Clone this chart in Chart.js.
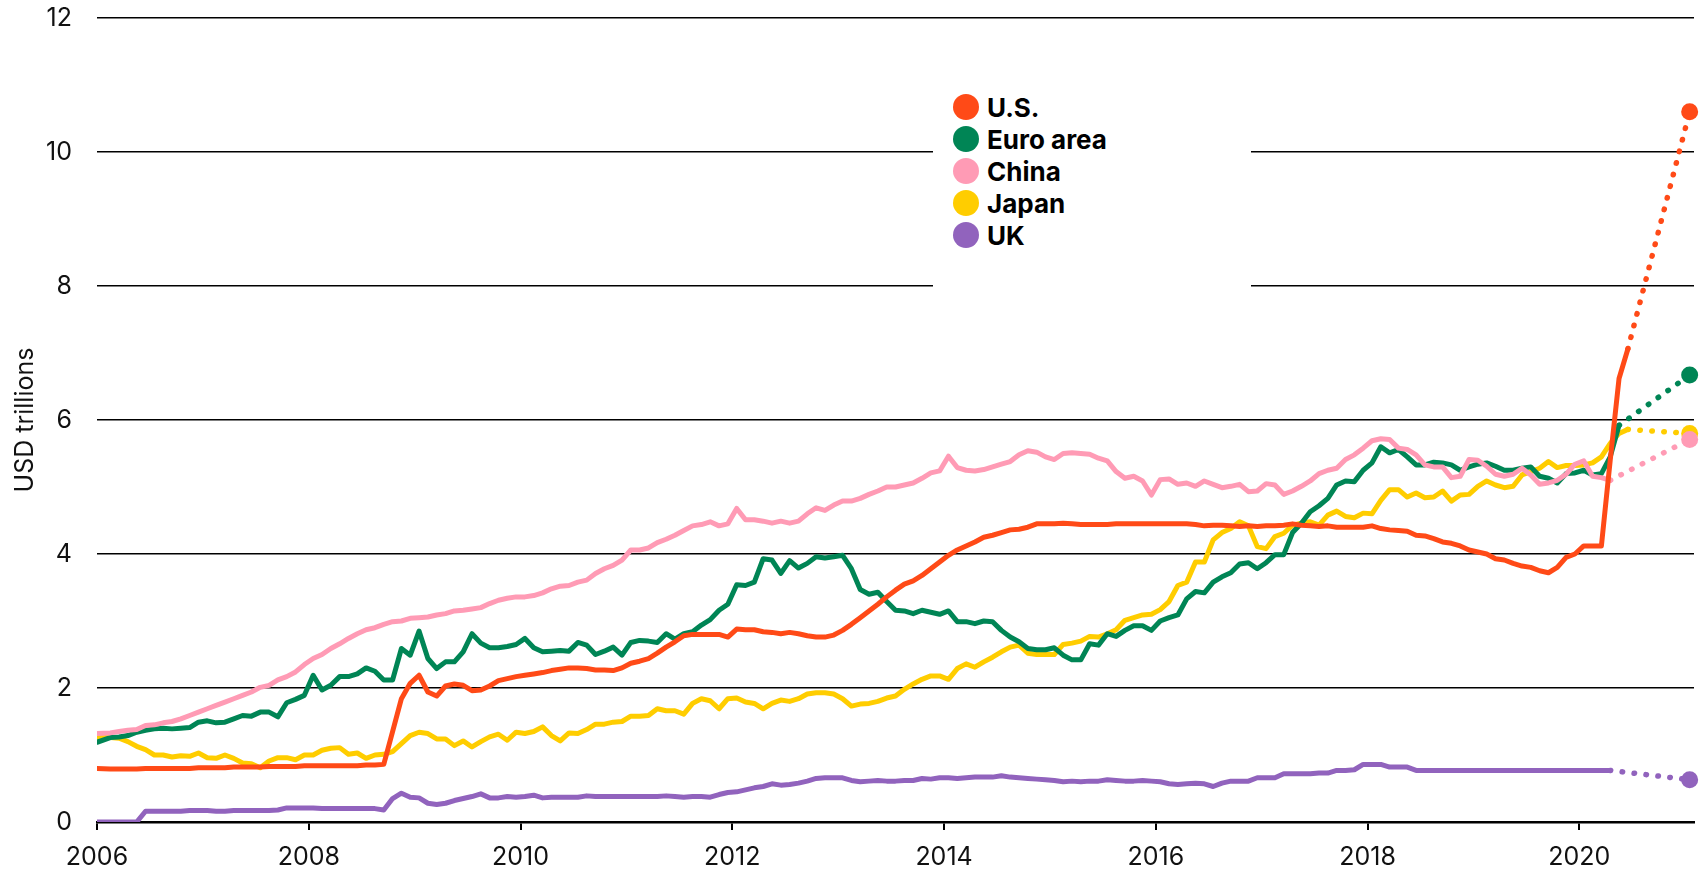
<!DOCTYPE html>
<html>
<head>
<meta charset="utf-8">
<script src="https://cdn.jsdelivr.net/npm/chart.js@4/dist/chart.umd.min.js"></script>
<style>
  html, body { margin: 0; padding: 0; background: #fff; }
  #wrap { position: relative; width: 1706px; height: 871px; overflow: hidden; }
  #c { position: absolute; left: 0; top: 0; }
  #legend { position: absolute; left: 933px; top: 60px; width: 318px; height: 240px; background: #fff;
            font-family: Inter, "DejaVu Sans", sans-serif; font-weight: 700; font-size: 26px; color: #000; }
  .item { position: absolute; left: 20px; height: 32px; display: flex; align-items: center; white-space: nowrap; }
  .dot { width: 26px; height: 26px; border-radius: 50%; margin-right: 8px; flex: none; }
</style>
</head>
<body>
<div id="wrap">
  <canvas id="c" width="1706" height="871"></canvas>
  <div id="legend"></div>
</div>
<script>
// ---------------- data (USD trillions, monthly from Jan 2006) ----------------
const seriesNames = ['U.S.', 'Euro area', 'China', 'Japan', 'UK'];
const xTickYears = [2006, 2008, 2010, 2012, 2014, 2016, 2018, 2020];
const yTickValues = [0, 2, 4, 6, 8, 10, 12];
const firstYear = 2006;
const projectionYear = 2021.042;

const usValues = [
  0.80,0.79,0.79,0.79,0.79,0.80,0.80,0.80,0.80,0.80,0.80,0.81,
  0.81,0.81,0.81,0.82,0.82,0.82,0.82,0.83,0.83,0.83,0.83,0.84,
  0.84,0.84,0.84,0.84,0.84,0.84,0.85,0.85,0.86,1.35,1.84,2.07,
  2.19,1.94,1.88,2.03,2.06,2.04,1.96,1.97,2.03,2.11,2.14,2.17,
  2.19,2.21,2.23,2.26,2.28,2.30,2.30,2.29,2.27,2.27,2.26,2.30,
  2.37,2.40,2.44,2.52,2.61,2.69,2.78,2.80,2.80,2.80,2.80,2.76,
  2.88,2.87,2.87,2.84,2.83,2.81,2.83,2.81,2.78,2.76,2.76,2.79,
  2.86,2.95,3.05,3.15,3.25,3.36,3.46,3.55,3.60,3.68,3.78,3.88,
  3.98,4.06,4.12,4.18,4.25,4.28,4.32,4.36,4.37,4.40,4.45,4.45,
  4.45,4.46,4.45,4.44,4.44,4.44,4.44,4.45,4.45,4.45,4.45,4.45,
  4.45,4.45,4.45,4.45,4.44,4.42,4.43,4.43,4.42,4.41,4.42,4.41,
  4.42,4.42,4.43,4.45,4.43,4.42,4.41,4.42,4.40,4.40,4.40,4.40,
  4.42,4.38,4.36,4.35,4.34,4.28,4.27,4.23,4.18,4.16,4.12,4.06,
  4.03,4.00,3.93,3.91,3.86,3.82,3.80,3.75,3.72,3.80,3.95,4.00,
  4.12,4.12,4.12,5.40,6.62,7.06
];
const euroValues = [
  1.19,1.26,1.27,1.29,1.34,1.37,1.39,1.40,1.39,1.40,1.41,1.49,
  1.51,1.48,1.49,1.54,1.59,1.58,1.64,1.64,1.57,1.78,1.83,1.89,
  2.19,1.97,2.04,2.17,2.17,2.21,2.30,2.25,2.12,2.12,2.59,2.49,
  2.85,2.44,2.29,2.39,2.39,2.54,2.81,2.67,2.60,2.60,2.62,2.65,
  2.74,2.60,2.54,2.55,2.56,2.55,2.68,2.64,2.50,2.55,2.61,2.49,
  2.68,2.71,2.70,2.68,2.81,2.73,2.81,2.84,2.94,3.02,3.16,3.25,
  3.54,3.53,3.58,3.93,3.91,3.71,3.90,3.79,3.86,3.96,3.94,3.96,
  3.98,3.78,3.47,3.40,3.43,3.29,3.16,3.15,3.11,3.16,3.13,3.10,
  3.15,2.99,2.99,2.96,3.00,2.99,2.86,2.76,2.69,2.59,2.57,2.57,
  2.60,2.49,2.42,2.42,2.66,2.64,2.81,2.77,2.86,2.93,2.93,2.86,
  3.00,3.05,3.09,3.33,3.44,3.42,3.58,3.66,3.72,3.85,3.87,3.78,
  3.87,3.99,3.99,4.32,4.46,4.63,4.72,4.83,5.03,5.09,5.08,5.25,
  5.36,5.60,5.51,5.56,5.45,5.33,5.33,5.37,5.36,5.33,5.25,5.30,
  5.34,5.36,5.31,5.25,5.25,5.28,5.30,5.16,5.13,5.06,5.20,5.21,
  5.25,5.18,5.20,5.45,5.92
];
const chinaValues = [
  1.32,1.33,1.35,1.37,1.38,1.44,1.45,1.48,1.50,1.54,1.59,1.64,
  1.69,1.74,1.79,1.84,1.89,1.94,2.01,2.04,2.12,2.17,2.24,2.35,
  2.44,2.50,2.59,2.66,2.74,2.81,2.87,2.90,2.95,2.99,3.00,3.04,
  3.05,3.06,3.09,3.11,3.15,3.16,3.18,3.20,3.26,3.31,3.34,3.36,
  3.36,3.38,3.42,3.48,3.52,3.53,3.58,3.61,3.71,3.78,3.83,3.91,
  4.06,4.06,4.09,4.17,4.22,4.28,4.35,4.42,4.44,4.48,4.42,4.45,
  4.68,4.51,4.51,4.49,4.46,4.49,4.46,4.49,4.60,4.69,4.65,4.73,
  4.79,4.79,4.83,4.89,4.94,5.00,5.00,5.03,5.06,5.13,5.21,5.24,
  5.46,5.29,5.25,5.24,5.26,5.30,5.34,5.38,5.48,5.54,5.52,5.45,
  5.41,5.50,5.51,5.50,5.49,5.43,5.39,5.23,5.13,5.16,5.09,4.88,
  5.11,5.12,5.04,5.06,5.01,5.09,5.04,4.99,5.01,5.04,4.93,4.94,
  5.05,5.03,4.89,4.94,5.01,5.09,5.20,5.25,5.28,5.41,5.48,5.58,
  5.69,5.72,5.71,5.58,5.56,5.48,5.33,5.30,5.30,5.14,5.16,5.41,
  5.40,5.31,5.19,5.16,5.19,5.28,5.18,5.04,5.06,5.10,5.19,5.34,
  5.39,5.16,5.14,5.10
];
const japanValues = [
  1.26,1.26,1.25,1.20,1.13,1.08,1.00,1.00,0.97,0.99,0.98,1.03,
  0.96,0.95,1.00,0.95,0.88,0.87,0.81,0.91,0.96,0.96,0.93,1.00,
  1.00,1.07,1.10,1.11,1.01,1.03,0.95,1.00,1.01,1.05,1.17,1.29,
  1.34,1.32,1.24,1.24,1.14,1.21,1.12,1.20,1.27,1.31,1.22,1.34,
  1.32,1.35,1.42,1.29,1.21,1.33,1.32,1.38,1.46,1.46,1.49,1.50,
  1.58,1.58,1.59,1.69,1.66,1.66,1.61,1.77,1.84,1.81,1.69,1.84,
  1.85,1.79,1.77,1.69,1.77,1.82,1.80,1.84,1.91,1.93,1.93,1.91,
  1.84,1.73,1.76,1.77,1.80,1.85,1.88,1.98,2.06,2.13,2.18,2.18,
  2.13,2.29,2.36,2.31,2.39,2.46,2.54,2.61,2.64,2.52,2.50,2.50,
  2.50,2.65,2.67,2.70,2.77,2.76,2.81,2.87,3.01,3.05,3.09,3.10,
  3.17,3.29,3.53,3.58,3.88,3.88,4.21,4.32,4.38,4.48,4.42,4.11,
  4.08,4.26,4.31,4.43,4.46,4.48,4.43,4.58,4.64,4.56,4.54,4.61,
  4.60,4.80,4.96,4.96,4.85,4.91,4.84,4.85,4.94,4.79,4.88,4.89,
  5.01,5.09,5.03,4.99,5.01,5.18,5.23,5.28,5.38,5.29,5.32,5.32,
  5.33,5.36,5.45,5.65,5.80,5.86
];
const ukValues = [
  0.00,0.00,0.00,0.00,0.00,0.16,0.16,0.16,0.16,0.16,0.17,0.17,
  0.17,0.16,0.16,0.17,0.17,0.17,0.17,0.17,0.18,0.21,0.21,0.21,
  0.21,0.20,0.20,0.20,0.20,0.20,0.20,0.20,0.18,0.35,0.43,0.37,
  0.36,0.28,0.26,0.28,0.32,0.35,0.38,0.42,0.36,0.36,0.38,0.37,
  0.38,0.40,0.36,0.37,0.37,0.37,0.37,0.39,0.38,0.38,0.38,0.38,
  0.38,0.38,0.38,0.38,0.39,0.38,0.37,0.38,0.38,0.37,0.41,0.44,
  0.45,0.48,0.51,0.53,0.57,0.55,0.56,0.58,0.61,0.65,0.66,0.66,
  0.66,0.62,0.60,0.61,0.62,0.61,0.61,0.62,0.62,0.65,0.64,0.66,
  0.66,0.65,0.66,0.67,0.67,0.67,0.69,0.67,0.66,0.65,0.64,0.63,
  0.62,0.60,0.61,0.60,0.61,0.61,0.63,0.62,0.61,0.61,0.62,0.61,
  0.60,0.57,0.56,0.57,0.58,0.57,0.53,0.58,0.61,0.61,0.61,0.66,
  0.66,0.66,0.72,0.72,0.72,0.72,0.73,0.73,0.77,0.77,0.78,0.86,
  0.86,0.86,0.82,0.82,0.82,0.77,0.77,0.77,0.77,0.77,0.77,0.77,
  0.77,0.77,0.77,0.77,0.77,0.77,0.77,0.77,0.77,0.77,0.77,0.77,
  0.77,0.77,0.77,0.77
];
// projected end-2020 balance sheets (dotted lines)
const projected2021 = [10.60, 6.67, 5.71, 5.80, 0.63];

// ---------------- styling ----------------
const seriesColors = ['#ff4a17', '#008555', '#ff9bb5', '#ffcd00', '#9163bd'];
const FONT = 'Inter, "DejaVu Sans", sans-serif';
const drawOrder = [0, 2, 1, 3, 4]; // first = top-most

const allValues = [usValues, euroValues, chinaValues, japanValues, ukValues];
const monthX = i => (i === 0 ? firstYear : firstYear + (i + 0.5) / 12);

const datasets = [];
drawOrder.forEach(k => {
  const vals = allValues[k];
  const color = seriesColors[k];
  datasets.push({
    label: seriesNames[k],
    data: vals.map((v, i) => ({ x: monthX(i), y: v })),
    borderColor: color,
    borderWidth: 5,
    pointRadius: 0,
    tension: 0,
    fill: false,
    borderJoinStyle: 'round',
    borderCapStyle: 'round'
  });
  const last = vals.length - 1;
  datasets.push({
    label: seriesNames[k] + ' projection',
    data: [{ x: monthX(last), y: vals[last] }, { x: projectionYear, y: projected2021[k] }],
    borderColor: color,
    borderWidth: 5.5,
    borderDash: [0.5, 11.5],
    borderCapStyle: 'round',
    pointRadius: [0, 8.5],
    pointBackgroundColor: color,
    pointBorderWidth: 0,
    pointBorderColor: color,
    tension: 0,
    fill: false,
    clip: false
  });
});

new Chart(document.getElementById('c'), {
  type: 'line',
  data: { datasets },
  options: {
    responsive: false,
    animation: false,
    events: [],
    layout: { padding: { top: 18, right: 12, left: 0, bottom: 0 } },
    plugins: { legend: { display: false }, tooltip: { enabled: false } },
    scales: {
      x: {
        type: 'linear',
        min: firstYear,
        max: 2021.083,
        afterBuildTicks: s => { s.ticks = xTickYears.map(v => ({ value: v })); },
        afterFit: s => { s.height = 49; s.paddingRight = 0; },
        grid: { display: true, drawOnChartArea: false, drawTicks: true, tickLength: 8, color: '#000', lineWidth: 2 },
        border: { display: true, color: '#000', width: 2.5 },
        ticks: {
          callback: v => String(v),
          font: { family: FONT, size: 25 },
          color: '#111',
          padding: 12,
          maxRotation: 0,
          autoSkip: false
        }
      },
      y: {
        min: 0,
        max: 12,
        afterBuildTicks: s => { s.ticks = yTickValues.map(v => ({ value: v })); },
        afterFit: s => { s.width = 97; s.paddingTop = 0; s.paddingBottom = 0; },
        grid: { color: '#000', lineWidth: 1.5, drawTicks: false },
        border: { display: false },
        ticks: { font: { family: FONT, size: 25 }, color: '#111', padding: 25 },
        title: {
          display: true,
          text: 'USD trillions',
          font: { family: FONT, size: 25 },
          color: '#111',
          padding: { top: 10, bottom: 0 }
        }
      }
    }
  }
});

// ---------------- legend (HTML text) ----------------
const legend = document.getElementById('legend');
seriesNames.forEach((name, i) => {
  const row = document.createElement('div');
  row.className = 'item';
  row.style.top = (31 + 32 * i) + 'px';
  const dot = document.createElement('span');
  dot.className = 'dot';
  dot.style.background = seriesColors[i];
  const txt = document.createElement('span');
  txt.textContent = name;
  row.appendChild(dot);
  row.appendChild(txt);
  legend.appendChild(row);
});
</script>
</body>
</html>
